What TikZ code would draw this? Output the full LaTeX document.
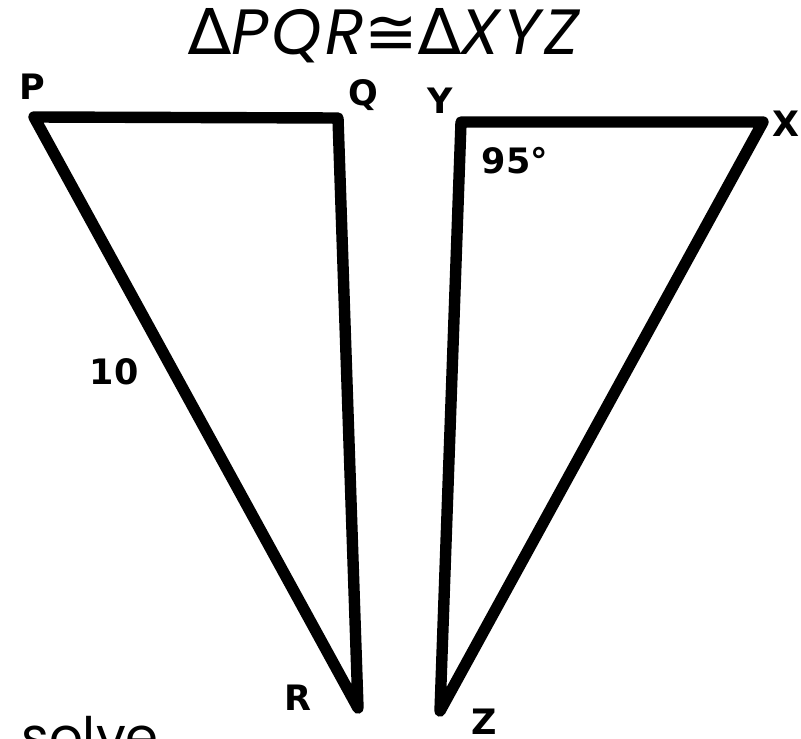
\documentclass[tikz,border=0pt]{standalone}
\usepackage{fontspec}
\setmainfont{Poppins}
\newfontfamily\titlefont{Poppins}[LetterSpace=5]
\newfontfamily\glyphfont{DejaVu Sans}
\newfontfamily\lblfont{DejaVu Sans}
\usetikzlibrary{positioning}

\tikzset{
  side/.style={line width=5.7pt, line join=round, line cap=round},
  vlabel/.style={font=\lblfont\bfseries\fontsize{17.5}{17.5}\selectfont, inner sep=0pt}
}

\begin{document}
\begin{tikzpicture}[x=0.5pt, y=-0.5pt]
    \useasboundingbox (0,0) rectangle (801,738);

    % Title
    \node[anchor=base, inner sep=0pt, font=\fontsize{32}{32}\selectfont] (title) at (384,55)
        {{\glyphfont ∆}{\titlefont\itshape PQR}{\glyphfont ≅∆}{\titlefont\itshape XYZ}};

    % Triangle PQR
    \coordinate (P) at (34,117);
    \coordinate (Q) at (338,118);
    \coordinate (R) at (358,708);
    \draw[side] (P) -- (Q) -- (R) -- cycle;

    % Triangle YXZ
    \coordinate (Y) at (461,122);
    \coordinate (X) at (763,122);
    \coordinate (Z) at (440,711);
    \draw[side] (Y) -- (X) -- (Z) -- cycle;

    % Vertex labels
    \node[vlabel] (lP) at (32,87) {P};
    \node[vlabel] (lQ) at (363,95) {Q};
    \node[vlabel] (lY) at (440,101) {Y};
    \node[vlabel] (lX) at (786,124) {X};
    \node[vlabel] (lR) at (298,698) {R};
    \node[vlabel] (lZ) at (484,722) {Z};

    % Given values
    \node[vlabel] (side) at (114,372) {10};
    \node[vlabel] (angle) at (515,161) {95°};

    % Prompt
    \node[anchor=base west, inner sep=0pt, font=\fontsize{26.5}{26.5}\selectfont] (solve) at (21,755) {solve};
\end{tikzpicture}
\end{document}
